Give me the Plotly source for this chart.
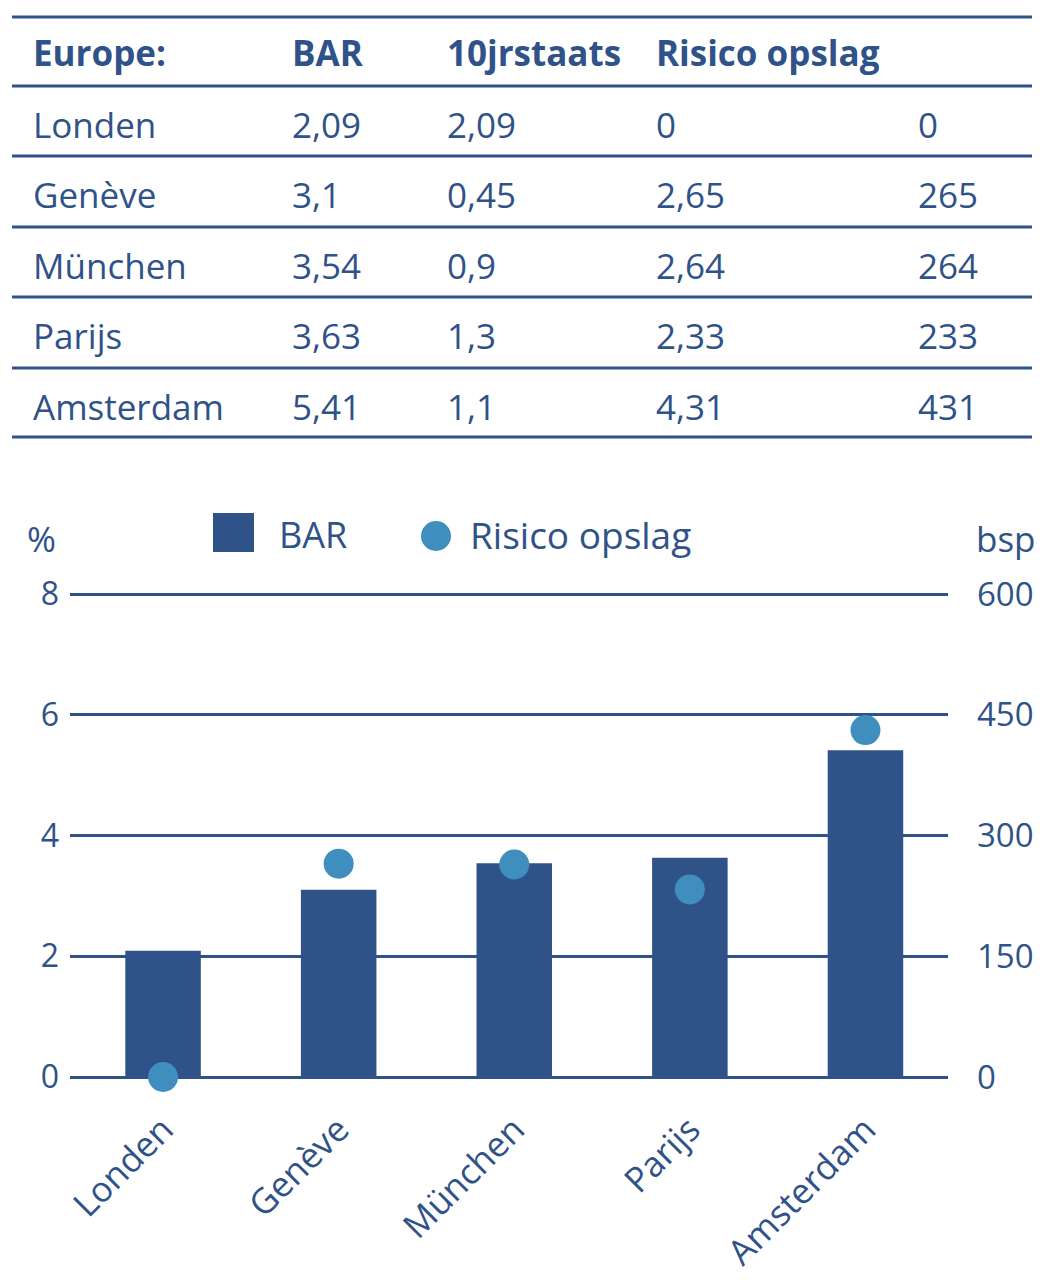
import plotly.graph_objects as go

# ---- data ----
cities = ["Londen", "Genève", "München", "Parijs", "Amsterdam"]
bar_vals = [2.09, 3.1, 3.54, 3.63, 5.41]
staats_vals = [2.09, 0.45, 0.9, 1.3, 1.1]
risico_vals = [0, 2.65, 2.64, 2.33, 4.31]
bsp_vals = [0, 265, 264, 233, 431]
header = ["Europe:", "BAR", "10jrstaats", "Risico opslag", ""]
left_ticks = [0, 2, 4, 6, 8]
right_ticks = [0, 150, 300, 450, 600]

DARK = "#2F5288"
DOT = "#3F8EBE"
FONT = "Open Sans"
OFF = 8  # page body margin
W, H = 1044 - OFF, 1280 - OFF

def px_x(x):
    return (x - OFF) / W

def px_y(y):
    return 1 - (y - OFF) / H

def fmt(v):
    return f"{v:g}".replace(".", ",")

fig = go.Figure()

fig.add_trace(go.Bar(
    x=list(range(len(cities))), y=bar_vals, name="BAR",
    marker=dict(color=DARK, line=dict(width=0)), width=0.43,
    showlegend=False, yaxis="y",
))
fig.add_trace(go.Scatter(
    x=list(range(len(cities))), y=bsp_vals, name="Risico opslag",
    mode="markers", marker=dict(color=DOT, size=30, line=dict(width=0)),
    showlegend=False, yaxis="y2", cliponaxis=False,
))

# plot area in reference pixels
x0, x1 = 70, 948
y_zero = 1077
unit = (1077 - 594) / 8.0
ytop_val = 8.15
y_top = y_zero - ytop_val * unit

fig.update_layout(
    width=W, height=H,
    margin=dict(l=0, r=0, t=0, b=0),
    paper_bgcolor="white", plot_bgcolor="white",
    font=dict(family=FONT, color=DARK, size=32),
    xaxis=dict(
        domain=[px_x(x0), px_x(x1)],
        range=[-0.53, 4.47], automargin=False,
        tickmode="array", tickvals=list(range(len(cities))), ticktext=cities,
        tickangle=-45, showgrid=False, zeroline=False, showline=False,
        ticks="", tickfont=dict(size=35, color=DARK, family=FONT),
        ticklabelstandoff=24,
    ),
    yaxis=dict(
        domain=[px_y(y_zero), px_y(y_top)],
        range=[0, ytop_val], tickvals=left_ticks, automargin=False,
        showgrid=True, gridcolor=DARK, gridwidth=3,
        zeroline=True, zerolinecolor=DARK, zerolinewidth=3,
        showline=False, ticks="", tickfont=dict(size=32, color=DARK),
        ticklabelstandoff=10,
    ),
    yaxis2=dict(
        overlaying="y", side="right", anchor="x", automargin=False,
        range=[0, ytop_val * 75], tickvals=right_ticks,
        showgrid=False, zeroline=False, showline=False, ticks="",
        tickfont=dict(size=33, color=DARK), ticklabelstandoff=28,
    ),
)

annotations = []
shapes = []

# axis unit labels
annotations.append(dict(text="%", x=px_x(41), y=px_y(538), xref="paper", yref="paper",
                        xanchor="center", yanchor="middle",
                        showarrow=False, font=dict(size=35, color=DARK)))
annotations.append(dict(text="bsp", x=px_x(1006), y=px_y(538), xref="paper", yref="paper",
                        xanchor="center", yanchor="middle",
                        showarrow=False, font=dict(size=35, color=DARK)))

# legend (manual)
shapes.append(dict(type="rect", xref="paper", yref="paper",
                   x0=px_x(213), x1=px_x(254), y0=px_y(552), y1=px_y(513),
                   fillcolor=DARK, line=dict(width=0)))
annotations.append(dict(text="BAR", x=px_x(277), y=px_y(535), xref="paper", yref="paper",
                        xanchor="left", yanchor="middle",
                        showarrow=False, font=dict(size=36, color=DARK)))
shapes.append(dict(type="circle", xref="paper", yref="paper",
                   x0=px_x(421), x1=px_x(451), y0=px_y(551), y1=px_y(521),
                   fillcolor=DOT, line=dict(width=0)))
annotations.append(dict(text="Risico opslag", x=px_x(468), y=px_y(535), xref="paper", yref="paper",
                        xanchor="left", yanchor="middle",
                        showarrow=False, font=dict(size=37, color=DARK)))

# table
col_x = [33, 292, 447, 656, 918]
header_y = 53
row_y = [126, 195, 266, 337, 407]
line_y = [17, 86, 156, 227, 297, 368, 437]

for cx, txt in zip(col_x, header):
    if txt:
        annotations.append(dict(text=f"<b>{txt}</b>", x=px_x(cx - 2), y=px_y(header_y),
                                xref="paper", yref="paper", xanchor="left", yanchor="middle",
                                showarrow=False, font=dict(size=35, color=DARK, family=FONT)))

for i, city in enumerate(cities):
    cells = [city, fmt(bar_vals[i]), fmt(staats_vals[i]), fmt(risico_vals[i]), fmt(bsp_vals[i])]
    for cx, txt in zip(col_x, cells):
        annotations.append(dict(text=txt, x=px_x(cx - 2), y=px_y(row_y[i] - 1),
                                xref="paper", yref="paper", xanchor="left", yanchor="middle",
                                showarrow=False, font=dict(size=35, color=DARK, family=FONT)))

for ly in line_y:
    shapes.append(dict(type="line", xref="paper", yref="paper",
                       x0=px_x(12), x1=px_x(1032), y0=px_y(ly), y1=px_y(ly),
                       line=dict(color=DARK, width=3)))

fig.update_layout(annotations=annotations, shapes=shapes)

fig.write_html("out.html")
